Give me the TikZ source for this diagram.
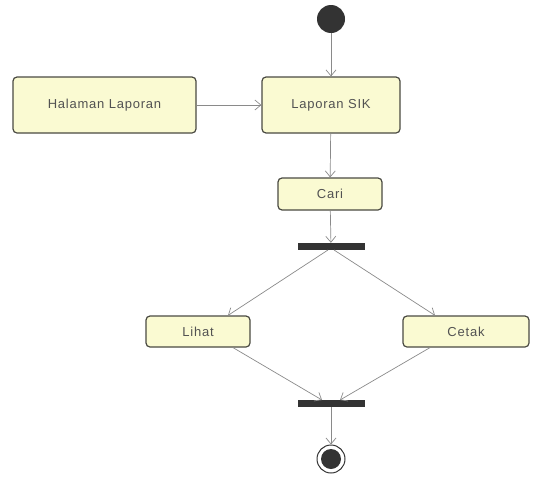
\documentclass[tikz,border=0pt]{standalone}
\usepackage{fontspec}
\setmainfont{Liberation Sans}
\newfontfamily\boxfont[LetterSpace=6]{Liberation Sans}
\usetikzlibrary{arrows.meta}
\definecolor{boxfill}{HTML}{FAFAD2}
\definecolor{boxline}{HTML}{4A4A42}
\definecolor{conn}{HTML}{8A8A8A}
\definecolor{dark}{HTML}{333333}
\begin{document}
\begin{tikzpicture}[x=1pt,y=-1pt,
  actbox/.style={draw=boxline,line width=1.2pt,fill=boxfill,rounded corners=4pt,inner sep=0pt,font=\boxfont\fontsize{13}{15}\selectfont,text=dark!85},
  flow/.style={draw=conn,line width=0.7pt,-{Straight Barb[length=6pt,width=10pt]}},
  bar/.style={fill=dark,draw=none,inner sep=0pt}]
\useasboundingbox (0,0) rectangle (536,477);
\node[circle,fill=dark,minimum size=28pt,inner sep=0pt] (start) at (331,19) {};
\node[actbox,minimum width=183pt,minimum height=56pt] (hal) at (104.5,105) {Halaman Laporan};
\node[actbox,minimum width=138pt,minimum height=56pt] (lap) at (331,105) {Laporan SIK};
\node[actbox,minimum width=104pt,minimum height=32pt] (cari) at (330,194) {Cari};
\node[bar,minimum width=67pt,minimum height=7pt] (fork) at (331,246.5) {};
\node[actbox,minimum width=104pt,minimum height=31pt] (lihat) at (198,331.5) {Lihat};
\node[actbox,minimum width=126pt,minimum height=31pt] (cetak) at (466,331.5) {Cetak};
\node[bar,minimum width=67pt,minimum height=7pt] (join) at (331,403.5) {};
\node[circle,draw=dark,line width=1pt,minimum size=28pt,inner sep=0pt] (end) at (331,459) {};
\fill[dark] (end.center) circle (10pt);
\coordinate (f1) at (328,250);
\coordinate (f2) at (334,250);
\coordinate (j1) at (322,400);
\coordinate (j2) at (340,400);
\draw[flow] (start) -- (lap);
\draw[flow] (hal) -- (lap);
\draw[flow] (lap) -- (cari);
\draw[flow] (cari) -- (fork);
\draw[flow] (f1) -- (lihat.north east -| 228,316);
\draw[flow] (f2) -- (cetak.north west -| 435,316);
\draw[flow] (lihat.south east -| 233,347) -- (j1);
\draw[flow] (cetak.south west -| 430,347) -- (j2);
\draw[flow] (join) -- (end);
\end{tikzpicture}
\end{document}
